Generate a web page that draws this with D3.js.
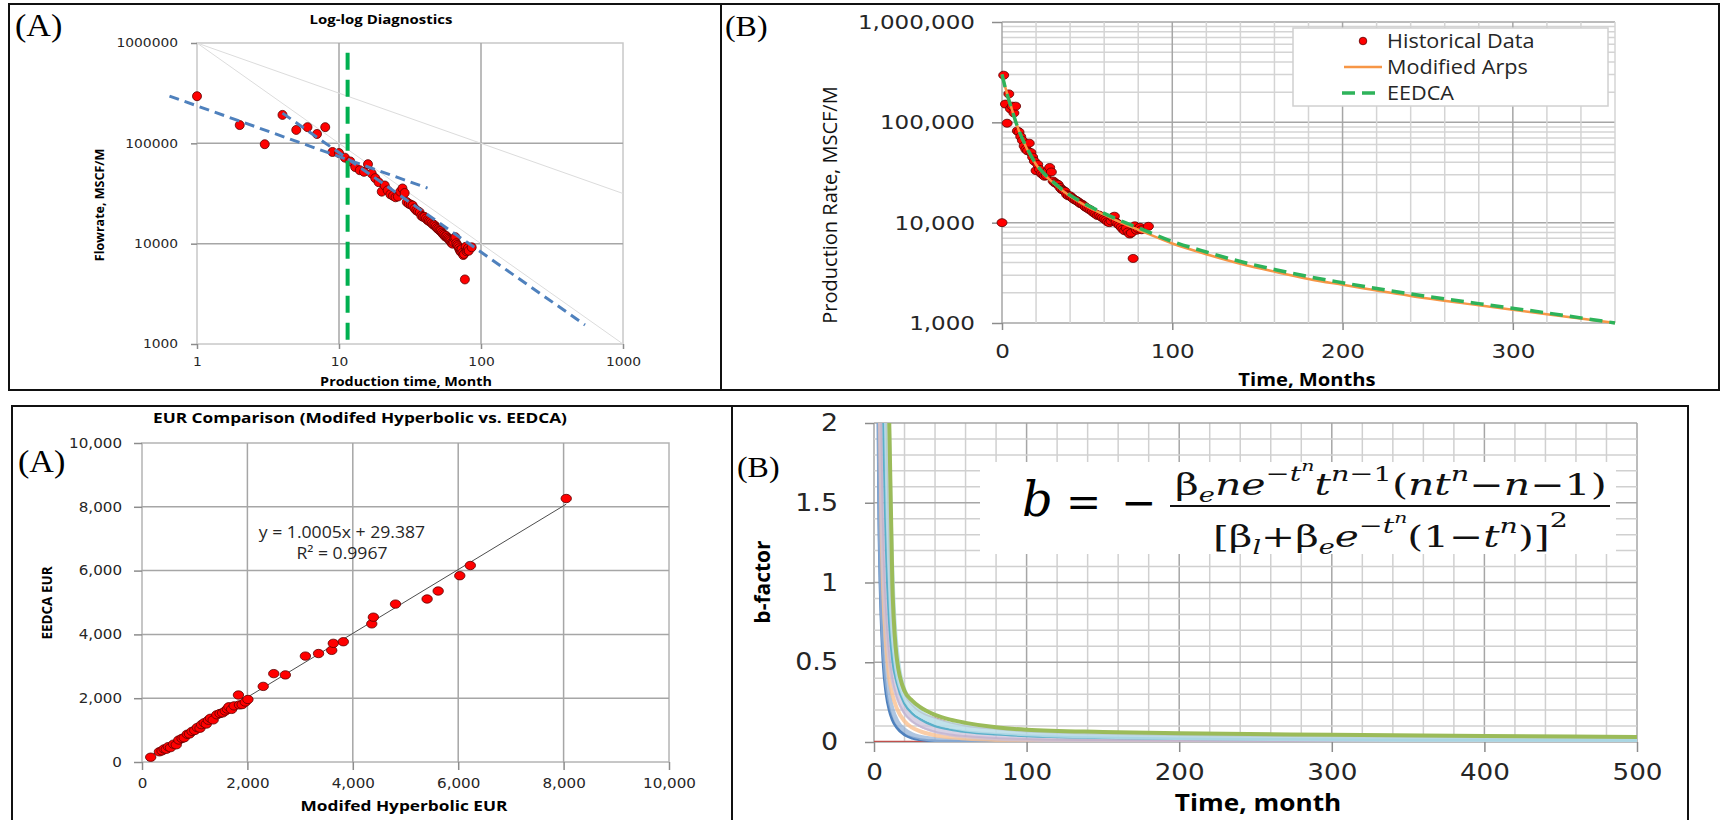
<!DOCTYPE html>
<html>
<head>
<meta charset="utf-8">
<script src="https://cdn.jsdelivr.net/npm/d3@7"></script>
<style>
  body { margin: 0; background: #fff; }
  svg { display: block; }
</style>
</head>
<body>
<svg id="fig" width="1726" height="820"></svg>
<script>
// ---------------------------------------------------- DATA ----------------------------------------------------
// historical production (month, MSCF/M) - same well in both top panels
const histMonth = [0, 1, 2, 3, 4, 5, 6, 7, 8, 9, 10, 11, 12, 13, 14, 15, 16, 17, 18, 19, 20, 21, 22, 23, 24, 25, 26, 27, 28, 29, 30, 31, 32, 33, 34, 35, 36, 37, 38, 39, 40, 41, 42, 43, 44, 45, 46, 47, 48, 49, 50, 51, 52, 53, 54, 55, 56, 57, 58, 59, 60, 61, 62, 63, 64, 65, 66, 67, 68, 69, 70, 71, 72, 73, 74, 75, 76, 77, 78, 79, 80, 81, 82, 86];
const histRate = [10000, 295000, 152000, 98000, 192000, 136000, 145000, 124000, 145000, 82000, 80000, 72000, 66000, 58000, 54000, 52000, 62000, 50000, 45000, 41000, 33000, 38000, 34000, 31000, 30000, 29000, 29500, 33000, 35500, 32000, 26000, 25000, 24500, 24000, 22500, 21500, 21000, 20500, 19000, 18500, 18500, 17800, 17200, 16800, 16500, 16000, 15500, 15300, 14800, 14300, 14000, 13600, 13400, 12900, 12500, 12200, 11800, 11900, 11500, 11200, 10900, 10600, 10200, 10000, 10400, 11300, 11600, 10100, 9700, 9400, 9000, 8600, 8300, 8800, 8100, 7700, 7900, 4400, 9300, 8400, 8700, 9000, 8500, 9200];

// log-log diagnostic lines
const diag1Month = [0.64, 42];
const diag1Rate = [296000, 35800];
const diag2Month = [4, 540];
const diag2Rate = [200000, 1550];
const refMonth = [1, 1000];
const refHalfRate = [1000000, 31623];
const refUnitRate = [1000000, 1000];
const switchMonth = 11.5;
const switchRate = [800000, 1000];
const aXTicks = [1, 10, 100, 1000];
const aYTicks = [1000, 10000, 100000, 1000000];

// forecasts
const fcMonth = [0, 2, 5, 10, 15, 20, 25, 30, 40, 50, 60, 70, 80, 100, 120, 140, 160, 180, 200, 240, 280, 320, 360];
const arpsRate = [300000, 222000, 150000, 82000, 53000, 38000, 30000, 25000, 18300, 14500, 12000, 10000, 8500, 6200, 4850, 3900, 3250, 2750, 2400, 1860, 1500, 1220, 1000];
const eedcaRate = [300000, 218000, 148000, 82000, 54000, 38500, 30500, 25500, 18800, 15000, 12400, 10400, 8900, 6500, 5100, 4100, 3420, 2900, 2520, 1950, 1560, 1260, 1000];
const bXTicks = [0, 100, 200, 300];
const bYTicks = [1000, 10000, 100000, 1000000];
const legendNames = ["Historical Data", "Modified Arps", "EEDCA"];

// EUR comparison
const eurHyp = [165, 330, 380, 420, 460, 500, 540, 600, 650, 700, 760, 800, 860, 900, 950, 1000, 1050, 1100, 1130, 1180, 1220, 1260, 1300, 1350, 1420, 1480, 1530, 1580, 1620, 1650, 1700, 1750, 1830, 1850, 1900, 1960, 2010, 2300, 2500, 2720, 3100, 3350, 3600, 3630, 3820, 4360, 4390, 4810, 5410, 5620, 6030, 6230, 8050];
const eurEedca = [150, 320, 350, 410, 400, 480, 450, 560, 540, 690, 740, 760, 870, 880, 960, 990, 1080, 1060, 1170, 1230, 1190, 1310, 1370, 1320, 1480, 1520, 1540, 1600, 1660, 1730, 1650, 1760, 2100, 1790, 1800, 1880, 1960, 2370, 2770, 2730, 3320, 3400, 3500, 3720, 3770, 4330, 4540, 4950, 5110, 5360, 5840, 6160, 8260];
const fitSlope = 1.0005;
const fitIntercept = 29.387;
const eurTicks = [0, 2000, 4000, 6000, 8000, 10000];

// b-factor curves
const bMonth = [2, 3, 4, 5, 6, 8, 10, 12, 15, 20, 25, 30, 40, 50, 60, 80, 100, 150, 200, 300, 400, 500];
const bBlue = [3.2, 1.6, 1.0, 0.7, 0.5, 0.3, 0.2, 0.14, 0.09, 0.045, 0.025, 0.015, 0.007, 0.004, 0.002, 0.001, 0, 0, 0, 0, 0, 0];
const bSteel = [5, 2.4, 1.4, 0.95, 0.7, 0.42, 0.28, 0.2, 0.13, 0.075, 0.045, 0.03, 0.016, 0.01, 0.007, 0.004, 0.003, 0.001, 0, 0, 0, 0];
const bPeach = [8, 3.5, 2.0, 1.3, 0.95, 0.6, 0.4, 0.3, 0.21, 0.13, 0.09, 0.068, 0.042, 0.03, 0.022, 0.013, 0.009, 0.005, 0.003, 0.002, 0.001, 0.001];
const bPurple = [10, 5, 2.8, 1.8, 1.3, 0.8, 0.55, 0.4, 0.28, 0.18, 0.13, 0.1, 0.065, 0.047, 0.037, 0.025, 0.019, 0.012, 0.009, 0.006, 0.005, 0.004];
const bLavender = [14, 6.5, 3.6, 2.3, 1.6, 0.95, 0.65, 0.47, 0.33, 0.21, 0.15, 0.12, 0.08, 0.06, 0.048, 0.035, 0.028, 0.02, 0.015, 0.011, 0.009, 0.008];
const bTeal = [20, 9, 5, 3.2, 2.2, 1.2, 0.75, 0.52, 0.37, 0.24, 0.18, 0.145, 0.1, 0.078, 0.064, 0.048, 0.038, 0.027, 0.021, 0.015, 0.012, 0.01];
const bRed = [30, 14, 8, 5, 3.5, 2.0, 1.15, 0.75, 0.48, 0.3, 0.23, 0.19, 0.15, 0.12, 0.1, 0.08, 0.065, 0.05, 0.042, 0.034, 0.029, 0.025];
const bLight = [35, 16, 9, 6, 4, 2.4, 1.4, 0.85, 0.5, 0.3, 0.22, 0.18, 0.13, 0.105, 0.088, 0.07, 0.058, 0.042, 0.034, 0.025, 0.018, 0.012];
const bGreen = [60, 30, 16, 10, 7, 3.8, 2.0, 1.0, 0.52, 0.32, 0.26, 0.22, 0.17, 0.14, 0.12, 0.092, 0.077, 0.063, 0.055, 0.045, 0.038, 0.032];
const flatMonth = [0, 500];
const flatB = [0, 0];
const dXTicks = [0, 100, 200, 300, 400, 500];
const dYTicks = [0, 0.5, 1, 1.5, 2];

const bSeries = [bBlue, bSteel, bPeach, bPurple, bLavender, bTeal, bRed, bLight, bGreen];
const bColors = ["#4f81bd", "#95b3d7", "#fac090", "#8064a2", "#ccc1da", "#4bacc6", "#c0504d", "#b7dde8", "#9bbb59"];
const bWidths = [3, 5, 4, 2, 8, 2.5, 1.5, 7, 4];
const bOpacity = [1, 0.75, 0.8, 0.6, 0.75, 0.9, 0.9, 0.85, 1];

// ---------------------------------------------------- HELPERS ----------------------------------------------------
const svg = d3.select("#fig");
const SANS = "'Open Sans', 'DejaVu Sans', sans-serif";
const NUM = "'DejaVu Sans', sans-serif";
const SERIF = "'Liberation Serif', 'DejaVu Serif', serif";

function stretch(sel, k) {
  sel.each(function () {
    const w = this.getComputedTextLength();
    d3.select(this).attr("textLength", w * k).attr("lengthAdjust", "spacingAndGlyphs");
  });
}

function label(g, x, y, txt, size, opts = {}) {
  const t = g
    .append("text")
    .attr("x", x)
    .attr("y", y)
    .attr("text-anchor", opts.anchor || "middle")
    .style("font-family", opts.font || SANS)
    .style("font-size", size + "px")
    .style("font-weight", opts.bold ? "bold" : "normal")
    .attr("fill", opts.fill || "#000")
    .text(txt);
  if (opts.rotate) {
    t.attr("x", 0).attr("y", 0).attr("transform", `translate(${x},${y}) rotate(-90)`);
  } else if (opts.k) {
    t.call(stretch, opts.k);
  }
  return t;
}

function styleAxis(g, size, k) {
  g.select(".domain").remove();
  g.selectAll(".tick line").attr("stroke", "#8c8c8c").attr("stroke-width", 1.5);
  g.selectAll(".tick text")
    .attr("fill", "#262626")
    .style("font-family", NUM)
    .style("font-size", size + "px")
    .call(stretch, k);
}

function pairs(xs, ys) {
  return xs.map((d, i) => [d, ys[i]]);
}

// panel frames
svg.append("rect").attr("x", 9).attr("y", 4).attr("width", 712).attr("height", 386).attr("fill", "none").attr("stroke", "#111").attr("stroke-width", 2);
svg.append("rect").attr("x", 721).attr("y", 4).attr("width", 998).attr("height", 386).attr("fill", "none").attr("stroke", "#111").attr("stroke-width", 2);
svg.append("rect").attr("x", 12).attr("y", 406).attr("width", 720).attr("height", 430).attr("fill", "none").attr("stroke", "#111").attr("stroke-width", 2);
svg.append("rect").attr("x", 732).attr("y", 406).attr("width", 956).attr("height", 430).attr("fill", "none").attr("stroke", "#111").attr("stroke-width", 2);

/* ---------------------------------------- TOP LEFT: LOG-LOG DIAGNOSTICS ---------------------------------------- */
const gA = svg.append("g");
const xA = d3.scaleLog().domain([1, 1000]).range([197, 623]);
const yA = d3.scaleLog().domain([1000, 1000000]).range([344, 43]);

gA.append("rect").attr("x", 197).attr("y", 43).attr("width", 426).attr("height", 301).attr("fill", "none").attr("stroke", "#c8c8c8").attr("stroke-width", 1.5);
gA.selectAll(".vg").data(aXTicks.slice(1, -1)).join("line")
  .attr("x1", d => xA(d)).attr("x2", d => xA(d)).attr("y1", 43).attr("y2", 344)
  .attr("stroke", "#a6a6a6").attr("stroke-width", 1.5);
gA.selectAll(".hg").data(aYTicks.slice(1, -1)).join("line")
  .attr("x1", 197).attr("x2", 623).attr("y1", d => yA(d)).attr("y2", d => yA(d))
  .attr("stroke", "#a6a6a6").attr("stroke-width", 1.5);

gA.append("g").attr("transform", "translate(197,0)")
  .call(d3.axisLeft(yA).tickValues(aYTicks).tickFormat(d3.format("d")).tickSize(6).tickPadding(13))
  .call(styleAxis, 12, 1.15);
gA.append("g").attr("transform", "translate(0,344)")
  .call(d3.axisBottom(xA).tickValues(aXTicks).tickFormat(d3.format("d")).tickSize(5).tickPadding(8))
  .call(styleAxis, 12, 1.15);

const lineA = d3.line().x(d => xA(d[0])).y(d => yA(d[1]));
gA.append("path").datum(pairs(refMonth, refHalfRate)).attr("d", lineA).attr("fill", "none").attr("stroke", "#dcdcdc").attr("stroke-width", 1);
gA.append("path").datum(pairs(refMonth, refUnitRate)).attr("d", lineA).attr("fill", "none").attr("stroke", "#dcdcdc").attr("stroke-width", 1);

gA.selectAll(".pt").data(pairs(histMonth, histRate).filter(d => d[0] > 0)).join("circle")
  .attr("cx", d => xA(d[0])).attr("cy", d => yA(d[1])).attr("r", 4.5)
  .attr("fill", "#ff0000").attr("stroke", "#5a0000").attr("stroke-width", 0.8);

[[diag1Month, diag1Rate], [diag2Month, diag2Rate]].forEach(([m, r]) => {
  gA.append("path").datum(pairs(m, r)).attr("d", lineA).attr("fill", "none")
    .attr("stroke", "#4f81bd").attr("stroke-width", 3).attr("stroke-dasharray", "10,6");
});
gA.append("line")
  .attr("x1", xA(switchMonth)).attr("x2", xA(switchMonth)).attr("y1", yA(switchRate[0])).attr("y2", yA(switchRate[1]))
  .attr("stroke", "#00b050").attr("stroke-width", 4).attr("stroke-dasharray", "17,10");

label(gA, 15, 36, "(A)", 31, { anchor: "start", font: SERIF, k: 1.1 });
label(gA, 381, 24, "Log-log Diagnostics", 13, { bold: true, k: 1.15 });
label(gA, 406, 386, "Production time, Month", 12.5, { bold: true, k: 1.15 });
label(gA, 104, 205, "Flowrate, MSCF/M", 12.5, { bold: true, rotate: true });

/* ---------------------------------------- TOP RIGHT: RATE VS TIME ---------------------------------------- */
const gB = svg.append("g");
const xB = d3.scaleLinear().domain([0, 360]).range([1002, 1615]);
const yB = d3.scaleLog().domain([1000, 1000000]).range([323, 22]);

gB.selectAll(".hm").data(yB.ticks()).join("line")
  .attr("x1", 1002).attr("x2", 1615).attr("y1", d => yB(d)).attr("y2", d => yB(d))
  .attr("stroke", d => (bYTicks.includes(d) ? "#a6a6a6" : "#d4d4d4")).attr("stroke-width", 1.5);
gB.selectAll(".vm").data(d3.range(0, 361, 20)).join("line")
  .attr("x1", d => xB(d)).attr("x2", d => xB(d)).attr("y1", 22).attr("y2", 323)
  .attr("stroke", d => (bXTicks.includes(d) ? "#a6a6a6" : "#d4d4d4")).attr("stroke-width", 1.5);

gB.append("g").attr("transform", "translate(1002,0)")
  .call(d3.axisLeft(yB).tickValues(bYTicks).tickFormat(d3.format(",")).tickSize(10).tickPadding(17))
  .call(styleAxis, 20, 1.15);
gB.append("g").attr("transform", "translate(0,323)")
  .call(d3.axisBottom(xB).tickValues(bXTicks).tickSize(7).tickPadding(14))
  .call(styleAxis, 20, 1.15);

gB.selectAll(".pt").data(pairs(histMonth, histRate)).join("ellipse")
  .attr("cx", d => xB(d[0])).attr("cy", d => yB(d[1])).attr("rx", 5).attr("ry", 4)
  .attr("fill", "#ff0000").attr("stroke", "#5a0000").attr("stroke-width", 0.8);

const lineB = d3.line().x(d => xB(d[0])).y(d => yB(d[1])).curve(d3.curveMonotoneX);
gB.append("path").datum(pairs(fcMonth, arpsRate)).attr("d", lineB).attr("fill", "none")
  .attr("stroke", "#f79646").attr("stroke-width", 2.5);
gB.append("path").datum(pairs(fcMonth, eedcaRate)).attr("d", lineB).attr("fill", "none")
  .attr("stroke", "#2eb35a").attr("stroke-width", 3.5).attr("stroke-dasharray", "13,7");

// legend
const leg = gB.append("g");
leg.append("rect").attr("x", 1293).attr("y", 28).attr("width", 315).attr("height", 78)
  .attr("fill", "#fff").attr("stroke", "#d0d0d0").attr("stroke-width", 1.5);
leg.append("circle").attr("cx", 1363).attr("cy", 41).attr("r", 3.8).attr("fill", "#ff0000").attr("stroke", "#5a0000").attr("stroke-width", 0.8);
leg.append("line").attr("x1", 1344).attr("x2", 1382).attr("y1", 67).attr("y2", 67).attr("stroke", "#f79646").attr("stroke-width", 2.5);
leg.append("line").attr("x1", 1342).attr("x2", 1382).attr("y1", 93).attr("y2", 93).attr("stroke", "#2eb35a").attr("stroke-width", 3.5).attr("stroke-dasharray", "13,7");
legendNames.forEach((n, i) => {
  label(leg, 1387, 48 + i * 26, n, 20, { anchor: "start", fill: "#262626", k: 1.08 });
});

label(gB, 725, 36, "(B)", 29, { anchor: "start", font: SERIF, k: 1.1 });
label(gB, 1307, 386, "Time, Months", 18, { bold: true, k: 1.12 });
label(gB, 837, 205, "Production Rate, MSCF/M", 20, { rotate: true, fill: "#111" });

/* ---------------------------------------- BOTTOM LEFT: EUR COMPARISON ---------------------------------------- */
const gC = svg.append("g");
const xC = d3.scaleLinear().domain([0, 10000]).range([142, 669]);
const yC = d3.scaleLinear().domain([0, 10000]).range([762, 443]);

gC.append("rect").attr("x", 142).attr("y", 443).attr("width", 527).attr("height", 319).attr("fill", "none").attr("stroke", "#b4b4b4").attr("stroke-width", 1.5);
gC.selectAll(".vg").data(eurTicks.slice(1, -1)).join("line")
  .attr("x1", d => xC(d)).attr("x2", d => xC(d)).attr("y1", 443).attr("y2", 762)
  .attr("stroke", "#a6a6a6").attr("stroke-width", 1.5);
gC.selectAll(".hg").data(eurTicks.slice(1, -1)).join("line")
  .attr("x1", 142).attr("x2", 669).attr("y1", d => yC(d)).attr("y2", d => yC(d))
  .attr("stroke", "#a6a6a6").attr("stroke-width", 1.5);

gC.append("g").attr("transform", "translate(142,0)")
  .call(d3.axisLeft(yC).tickValues(eurTicks).tickFormat(d3.format(",")).tickSize(8).tickPadding(12))
  .call(styleAxis, 13.5, 1.12);
gC.append("g").attr("transform", "translate(0,762)")
  .call(d3.axisBottom(xC).tickValues(eurTicks).tickFormat(d3.format(",")).tickSize(8).tickPadding(8))
  .call(styleAxis, 13.5, 1.12);

const eurMin = d3.min(eurHyp);
const eurMax = d3.max(eurHyp);
gC.append("line")
  .attr("x1", xC(eurMin)).attr("y1", yC(fitSlope * eurMin + fitIntercept))
  .attr("x2", xC(eurMax)).attr("y2", yC(fitSlope * eurMax + fitIntercept))
  .attr("stroke", "#4d4d4d").attr("stroke-width", 1);

gC.selectAll(".pt").data(pairs(eurHyp, eurEedca)).join("ellipse")
  .attr("cx", d => xC(d[0])).attr("cy", d => yC(d[1])).attr("rx", 5.2).attr("ry", 4.2)
  .attr("fill", "#ff0000").attr("stroke", "#5a0000").attr("stroke-width", 0.8);

label(gC, 342, 538, "y = 1.0005x + 29.387", 16, { fill: "#262626", k: 1.1 });
label(gC, 342, 559, "R² = 0.9967", 16, { fill: "#262626", k: 1.1 });
label(gC, 18, 472, "(A)", 31, { anchor: "start", font: SERIF, k: 1.1 });
label(gC, 360, 423, "EUR Comparison (Modifed Hyperbolic vs. EEDCA)", 15, { bold: true, k: 1.15 });
label(gC, 404, 811, "Modifed Hyperbolic EUR", 15, { bold: true, k: 1.15 });
label(gC, 52, 603, "EEDCA EUR", 13.5, { bold: true, rotate: true });

/* ---------------------------------------- BOTTOM RIGHT: B-FACTOR ---------------------------------------- */
const gD = svg.append("g");
const xD = d3.scaleLinear().domain([0, 500]).range([874, 1637]);
const yD = d3.scaleLinear().domain([0, 2]).range([742, 423]);

gD.append("clipPath").attr("id", "clipD").append("rect").attr("x", 874).attr("y", 423).attr("width", 763).attr("height", 319);

gD.selectAll(".vm").data(d3.range(0, 501, 20)).join("line")
  .attr("x1", d => xD(d)).attr("x2", d => xD(d)).attr("y1", 423).attr("y2", 742)
  .attr("stroke", d => (d % 100 === 0 ? "#a6a6a6" : "#d0d0d0")).attr("stroke-width", 1.5);
gD.selectAll(".hm").data(d3.range(0, 21).map(d => d / 10)).join("line")
  .attr("x1", 874).attr("x2", 1637).attr("y1", d => yD(d)).attr("y2", d => yD(d))
  .attr("stroke", d => (Math.round(d * 10) % 5 === 0 ? "#a6a6a6" : "#d0d0d0")).attr("stroke-width", 1.5);

gD.append("g").attr("transform", "translate(874,0)")
  .call(d3.axisLeft(yD).tickValues(dYTicks).tickFormat(d3.format("")).tickSize(9).tickPadding(27))
  .call(styleAxis, 24, 1.12);
gD.append("g").attr("transform", "translate(0,742)")
  .call(d3.axisBottom(xD).tickValues(dXTicks).tickSize(10).tickPadding(12))
  .call(styleAxis, 23, 1.14);

const lineD = d3.line().x(d => xD(d[0])).y(d => yD(d[1])).curve(d3.curveMonotoneX);
const curves = gD.append("g").attr("clip-path", "url(#clipD)");
curves.append("path").datum(pairs(flatMonth, flatB)).attr("d", lineD).attr("fill", "none")
  .attr("stroke", "#c0504d").attr("stroke-width", 2.5);
bSeries.forEach((s, i) => {
  curves.append("path").datum(pairs(bMonth, s)).attr("d", lineD).attr("fill", "none")
    .attr("stroke", bColors[i]).attr("stroke-width", bWidths[i]).attr("stroke-opacity", bOpacity[i]);
});

// formula box
gD.append("rect").attr("x", 980).attr("y", 462).attr("width", 636).attr("height", 92).attr("fill", "#fff");

const MATH = "'DejaVu Serif', serif";
function mathText(g, x, y, runs, width) {
  const t = g.append("text").attr("x", x).attr("y", y).style("font-family", MATH).attr("fill", "#111");
  let cur = 0;
  runs.forEach(([s, size, shift, it]) => {
    t.append("tspan")
      .attr("dy", shift - cur)
      .style("font-size", size + "px")
      .style("font-style", it ? "italic" : "normal")
      .text(s);
    cur = shift;
  });
  const w = t.node().getBBox().width;
  t.attr("transform", `translate(${x},0) scale(${width / w},1) translate(${-x},0)`);
  return t;
}

const numRuns = [
  ["β", 30, 0, 0], ["e", 20, 7, 1], ["ne", 30, 0, 1], ["−", 21, -14, 0], ["t", 21, -14, 1], ["n", 15, -24, 1],
  ["t", 30, 0, 1], ["n", 21, -14, 1], ["−1", 21, -14, 0], ["(", 30, 0, 0], ["nt", 30, 0, 1], ["n", 21, -14, 1],
  ["−", 30, 0, 0], ["n", 30, 0, 1], ["−1)", 30, 0, 0]
];
const denRuns = [
  ["[β", 30, 0, 0], ["l", 20, 7, 1], ["+β", 30, 0, 0], ["e", 20, 7, 1], ["e", 30, 0, 1], ["−", 21, -14, 0],
  ["t", 21, -14, 1], ["n", 15, -24, 1], ["(1−", 30, 0, 0], ["t", 30, 0, 1], ["n", 21, -14, 1], [")]", 30, 0, 0],
  ["2", 21, -20, 0]
];
mathText(gD, 1175, 495, numRuns, 432);
mathText(gD, 1213, 547, denRuns, 355);
gD.append("line").attr("x1", 1170).attr("x2", 1610).attr("y1", 506).attr("y2", 506).attr("stroke", "#111").attr("stroke-width", 2.2);
label(gD, 1022, 516, "b", 48, { anchor: "start", font: MATH }).style("font-style", "italic");
label(gD, 1066, 517, "=", 42, { anchor: "start", font: MATH });
label(gD, 1121, 517, "−", 42, { anchor: "start", font: MATH });

label(gD, 737, 477, "(B)", 29, { anchor: "start", font: SERIF, k: 1.1 });
label(gD, 1258, 811, "Time, month", 23, { bold: true, k: 1.14 });
label(gD, 770, 582, "b-factor", 21, { bold: true, rotate: true });
</script>
</body>
</html>
